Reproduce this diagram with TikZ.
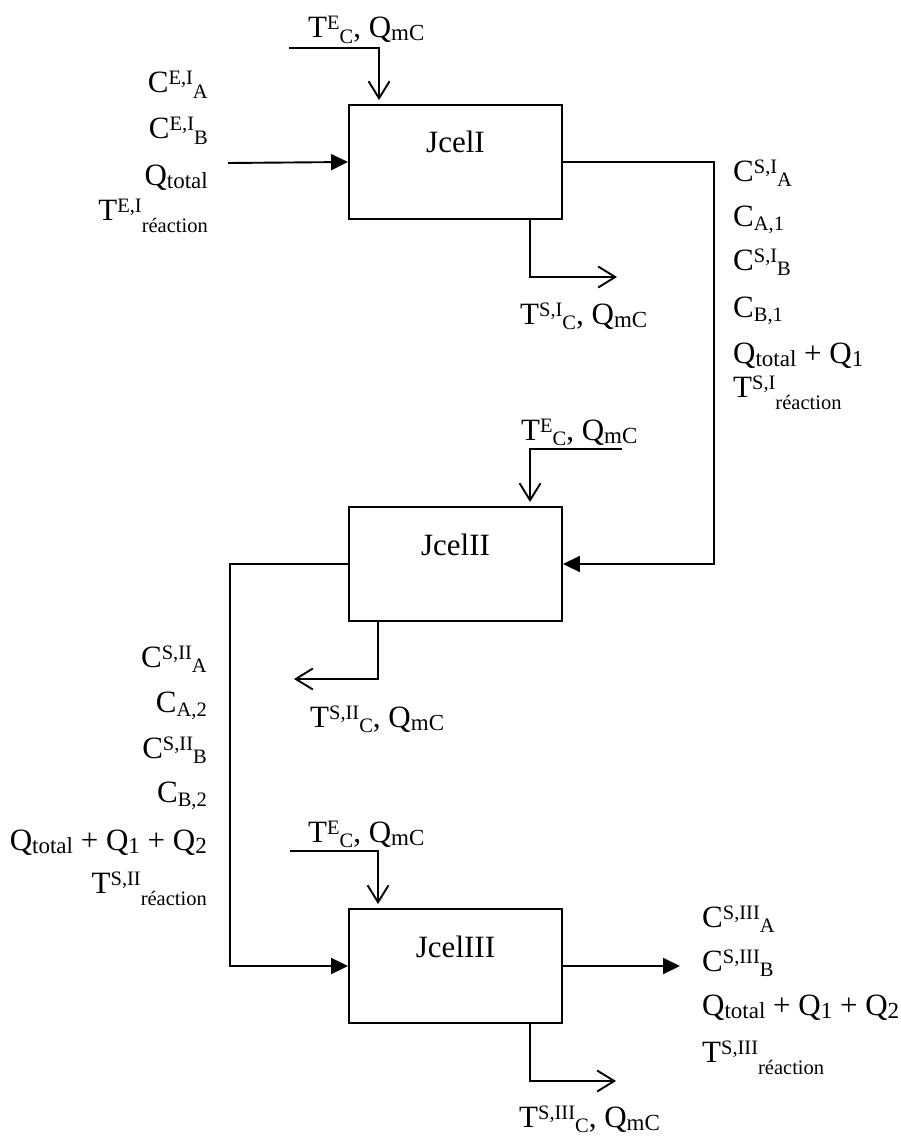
\documentclass[tikz,border=0pt]{standalone}
\usepackage{fontspec}
\setmainfont{Liberation Serif}
\usetikzlibrary{arrows.meta}
\newcommand\SupSub[3]{#1\raisebox{8pt}{\fontsize{20.5}{20.5}\selectfont #2}\raisebox{-5.5pt}{\fontsize{20.5}{20.5}\selectfont #3}}
\newcommand\SupSubR[3]{#1\raisebox{8pt}{\fontsize{20.5}{20.5}\selectfont #2}\raisebox{-12pt}{\fontsize{20.5}{20.5}\selectfont #3}}
\newcommand\QSub[2]{#1\raisebox{-3pt}{\fontsize{23}{23}\selectfont #2}}
\newcommand\CSub[2]{#1\raisebox{-4pt}{\fontsize{20.5}{20.5}\selectfont #2}}
\newcommand\TEC{\SupSub{T}{E}{C}, \QSub{Q}{mC}}
\begin{document}
\begin{tikzpicture}[x=1pt,y=-1pt,
  every node/.style={font=\fontsize{31}{36}\selectfont, inner sep=0pt},
  box/.style={draw, line width=1.9pt, minimum width=213pt, minimum height=114pt},
  boxlabel/.style={anchor=base},
  lab/.style={anchor=base west},
  labr/.style={anchor=base east},
  conn/.style={line width=1.9pt},
  fillarrow/.style={conn, -{Triangle[length=17pt,width=16pt]}},
  openarrow/.style={conn, -{Straight Barb[length=17pt,width=21pt,line width=1.9pt]}}]
\useasboundingbox (0,0) rectangle (900,1137);

% boxes
\node[box] (b1) at (455.5,162) {};
\node[box] (b2) at (455.5,564) {};
\node[box] (b3) at (455.5,966) {};
\node[boxlabel] (l1) at (455.5,153) {JcelI};
\node[boxlabel] (l2) at (455.5,555) {JcelII};
\node[boxlabel] (l3) at (455.5,957) {JcelIII};

% coordinates
\coordinate (in1) at (228,163);
\coordinate (t1) at (289,48);
\coordinate (o1) at (617,277);
\coordinate (c1) at (714,564);
\coordinate (t2) at (622,449);
\coordinate (o2) at (294,679);
\coordinate (c2) at (230,966);
\coordinate (t3) at (290,851);
\coordinate (out3) at (680,966);
\coordinate (o3) at (616,1081);

% connectors
\draw[fillarrow] (in1) -- (b1.west);
\draw[openarrow, shorten >=4pt] (t1) -| ([xshift=31pt]b1.north west);
\draw[openarrow] ([xshift=182pt]b1.south west) |- (o1);
\draw[fillarrow] (b1.east) -| (c1) -- (b2.east);
\draw[openarrow, shorten >=4pt] (t2) -| ([xshift=182pt]b2.north west);
\draw[openarrow] ([xshift=30pt]b2.south west) |- (o2);
\draw[fillarrow] (b2.west) -| (c2) -- (b3.west);
\draw[openarrow, shorten >=4pt] (t3) -| ([xshift=30pt]b3.north west);
\draw[fillarrow] (b3.east) -- (out3);
\draw[openarrow] ([xshift=182pt]b3.south west) |- (o3);

% top / bottom labels
\node[lab] (tl1) at (308,38) {\TEC};
\node[lab] (bl1) at (520,324) {\SupSub{T}{S,I}{C}, \QSub{Q}{mC}};
\node[lab] (tl2) at (521,440) {\TEC};
\node[lab] (bl2) at (310,727) {\SupSub{T}{S,II}{C}, \QSub{Q}{mC}};
\node[lab] (tl3) at (308,842) {\TEC};
\node[lab] (bl3) at (519,1127) {\SupSub{T}{S,III}{C}, \QSub{Q}{mC}};

% inputs of JcelI
\node[labr] (a1) at (208,93) {\SupSub{C}{E,I}{A}};
\node[labr] (a2) at (208,139) {\SupSub{C}{E,I}{B}};
\node[labr] (a3) at (208,185) {\QSub{Q}{total}};
\node[labr] (a4) at (208,220) {\SupSubR{T}{E,I}{réaction}};

% outputs of JcelI
\node[lab] (s1) at (733,181) {\SupSub{C}{S,I}{A}};
\node[lab] (s2) at (733,226) {\CSub{C}{A,1}};
\node[lab] (s3) at (733,270) {\SupSub{C}{S,I}{B}};
\node[lab] (s4) at (733,317) {\CSub{C}{B,1}};
\node[lab] (s5) at (733,363) {\QSub{Q}{total} + \QSub{Q}{1}};
\node[lab] (s6) at (733,397) {\SupSubR{T}{S,I}{réaction}};

% outputs of JcelII
\node[labr] (u1) at (207,667) {\SupSub{C}{S,II}{A}};
\node[labr] (u2) at (207,712) {\CSub{C}{A,2}};
\node[labr] (u3) at (207,758) {\SupSub{C}{S,II}{B}};
\node[labr] (u4) at (207,802) {\CSub{C}{B,2}};
\node[labr] (u5) at (207,850) {\QSub{Q}{total} + \QSub{Q}{1} + \QSub{Q}{2}};
\node[labr] (u6) at (207,893) {\SupSubR{T}{S,II}{réaction}};

% outputs of JcelIII
\node[lab] (v1) at (702,927) {\SupSub{C}{S,III}{A}};
\node[lab] (v2) at (702,971) {\SupSub{C}{S,III}{B}};
\node[lab] (v3) at (702,1015) {\QSub{Q}{total} + \QSub{Q}{1} + \QSub{Q}{2}};
\node[lab] (v4) at (702,1062) {\SupSubR{T}{S,III}{réaction}};
\end{tikzpicture}
\end{document}
